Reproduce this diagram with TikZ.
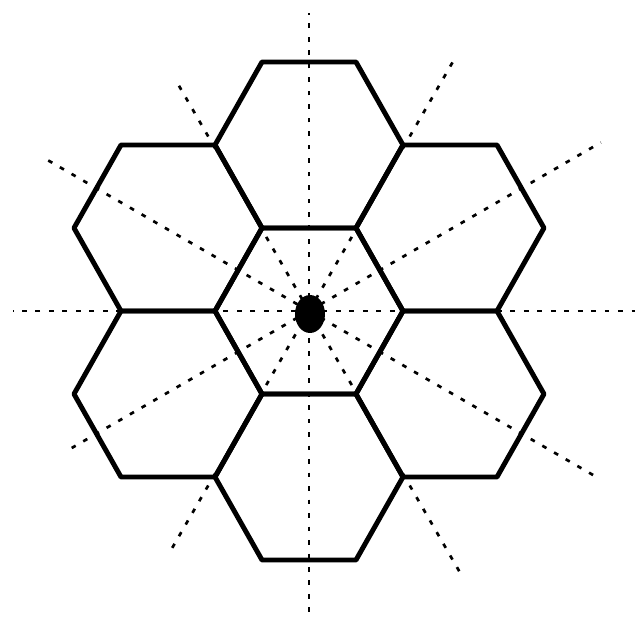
\documentclass[tikz,border=0pt]{standalone}
\usepackage{tikz}

\begin{document}
\begin{tikzpicture}[x=0.03cm,y=0.03cm, hexline/.style={line width=4.2pt,line join=round}, ray/.style={line width=2.3pt,dash pattern=on 4pt off 7.5pt}]
\useasboundingbox (-309,-313) rectangle (329,311);
\coordinate (mid) at (0,0);
\coordinate (top) at (0,166);  \coordinate (bot) at (0,-166);
\coordinate (ul) at (-141,83); \coordinate (ll) at (-141,-83);
\coordinate (ur) at (141,83);  \coordinate (lr) at (141,-83);
% rays in the middle cell
\foreach \a in {0,60,...,300} {\coordinate (v\a) at (\a:94); \draw[ray] (mid)--(v\a);}
% rays through the outer cells
\foreach \a/\r in {30/337,90/298,150/302,210/274,270/309,330/336} {\coordinate (e\a) at (\a:\r); \draw[ray] (mid)--(e\a);}
% rays beyond the outer corners
\foreach \a/\r in {0/326,60/288,120/263,180/296,240/275,300/304} {\coordinate (w\a) at (\a:188); \coordinate (f\a) at (\a:\r); \draw[ray] (w\a)--(f\a);}
% cells
\foreach \h in {mid,top,bot,ul,ll,ur,lr}
  \draw[hexline] ([shift={(-94,0)}]\h) -- ++(47,83) -- ++(94,0) -- ++(47,-83) -- ++(-47,-83) -- ++(-94,0) -- cycle;
\fill (1,-3) ellipse [x radius=15, y radius=19];
\end{tikzpicture}
\end{document}
